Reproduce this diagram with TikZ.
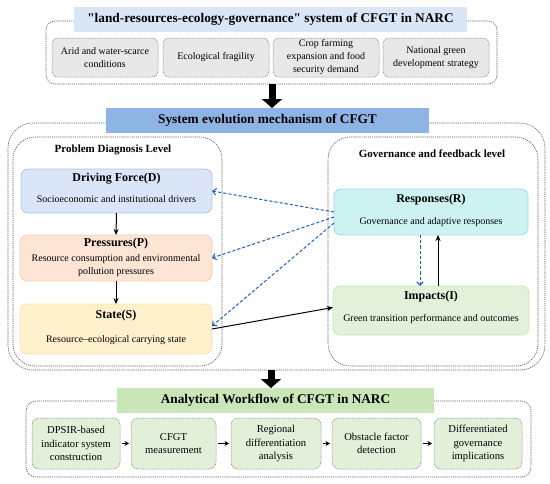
\documentclass[tikz,border=0pt]{standalone}
\usepackage{fontspec}
\setmainfont{Liberation Serif}[Ligatures=TeXOff]
\usetikzlibrary{arrows.meta}
\definecolor{tblue}{HTML}{D9E6F6}
\definecolor{mblue}{HTML}{8EB4E3}
\definecolor{bgreen}{HTML}{C9E6B8}
\definecolor{gfill}{HTML}{E8E8E8}
\definecolor{dashc}{HTML}{5E5E5E}
\definecolor{dfill}{HTML}{DAE6F7}\definecolor{dline}{HTML}{A9C4EB}
\definecolor{pfill}{HTML}{FCE5D4}\definecolor{pline}{HTML}{F7CFB0}
\definecolor{sfill}{HTML}{FFF1CC}\definecolor{sline}{HTML}{F9E3A6}
\definecolor{rfill}{HTML}{CCF2F2}\definecolor{rline}{HTML}{A5D3EE}
\definecolor{ifill}{HTML}{E2F1DA}\definecolor{iline}{HTML}{C9E4BA}
\definecolor{wfill}{HTML}{E2EFD9}
\definecolor{fbblue}{HTML}{1F5FBF}
\begin{document}
\begin{tikzpicture}[x=1pt,y=-1pt,
  outerdash/.style={draw=dashc,line width=0.6pt,dash pattern=on 1.2pt off 0.9pt,inner sep=0,outer sep=0},
  titlebox/.style={inner sep=0,outer sep=0,font=\fontsize{13.3}{15}\selectfont\bfseries},
  graybox/.style={fill=gfill,draw=dashc!80,line width=0.5pt,dash pattern=on 1pt off 0.8pt,rounded corners=6,inner sep=0,outer sep=0,minimum height=39,minimum width=106,align=center,font=\fontsize{10}{13}\selectfont},
  wbox/.style={fill=wfill,draw=dashc!80,line width=0.5pt,dash pattern=on 1pt off 0.8pt,rounded corners=7,inner sep=0,outer sep=0,minimum height=51,align=center,font=\fontsize{10.6}{13.5}\selectfont},
  dpsir/.style={rounded corners=7,line width=0.7pt,inner sep=0,outer sep=0},
  ttl/.style={font=\fontsize{12}{14}\selectfont\bfseries,inner sep=0},
  sub/.style={font=\fontsize{10}{13}\selectfont,inner sep=0,align=center},
  lvl/.style={font=\fontsize{11}{13}\selectfont\bfseries,inner sep=0},
  blk/.style={-{Stealth[length=6pt,width=5pt]},line width=1pt},
  fb/.style={draw=fbblue,dash pattern=on 3.2pt off 2pt,line width=1pt,-{Straight Barb[length=3.5pt,width=6.5pt]}},
  big/.style={line width=7pt,-{Triangle[length=9pt,width=20pt]}},
  wf/.style={-{Stealth[length=4.5pt,width=5pt]},line width=1pt,shorten <=2pt,shorten >=2pt}]
\useasboundingbox[fill=white] (0,0) rectangle (550,483);

% ---------- top section ----------
\node[outerdash,rounded corners=9,minimum width=451,minimum height=63] (topouter) at (271.5,52.5) {};
\node[titlebox,fill=tblue,minimum width=393,minimum height=25] (toptitle) at (270.5,19.5) {"land-resources-ecology-governance" system of CFGT in NARC};
\node[graybox] (g1) at (105,57.5) {Arid and water-scarce\\conditions};
\node[graybox] (g2) at (216,57.5) {Ecological fragility};
\node[graybox] (g3) at (326,57.5) {Crop farming\\expansion and food\\security demand};
\node[graybox] (g4) at (436,57.5) {National green\\development strategy};

% ---------- middle section ----------
\node[outerdash,rounded corners=25,minimum width=537,minimum height=247] (midouter) at (276.5,246.5) {};
\node[titlebox,fill=mblue,minimum width=323,minimum height=25] (midtitle) at (267.5,120.5) {System evolution mechanism of CFGT};
\node[outerdash,rounded corners=22,minimum width=209,minimum height=229] (leftin) at (117.5,251.5) {};
\node[outerdash,rounded corners=22,minimum width=210,minimum height=229] (rightin) at (433,251.5) {};
\node[lvl] (lvlL) at (113,150) {Problem Diagnosis Level};
\node[lvl] (lvlR) at (432,154) {Governance and feedback level};

\node[dpsir,fill=dfill,draw=dline,minimum width=191,minimum height=44] (D) at (116.5,191) {};
\node[ttl] (Dt) at (116.5,179) {Driving Force(D)};
\node[sub] (Ds) at (116.5,199) {Socioeconomic and institutional drivers};

\node[dpsir,fill=pfill,draw=pline,minimum width=192,minimum height=46] (P) at (116,258) {};
\node[ttl] (Pt) at (116,244) {Pressures(P)};
\node[sub] (Ps) at (116,266) {Resource consumption and environmental\\pollution pressures};

\node[dpsir,fill=sfill,draw=sline,minimum width=192,minimum height=50] (S) at (116,329) {};
\node[ttl] (St) at (116,316) {State(S)};
\node[sub] (Ss) at (116,340) {Resource–ecological carrying state};

\node[dpsir,fill=rfill,draw=rline,minimum width=194,minimum height=46] (R) at (431,212) {};
\node[ttl] (Rt) at (431,200) {Responses(R)};
\node[sub] (Rs) at (431,222) {Governance and adaptive responses};

\node[dpsir,fill=ifill,draw=iline,minimum width=196,minimum height=49] (I) at (431,310.5) {};
\node[ttl] (It) at (431,297) {Impacts(I)};
\node[sub] (Is) at (431,319) {Green transition performance and outcomes};

\draw[blk] (D.south) -- (P.north);
\draw[blk] (P.south) -- (S.north);
\draw[fb] (R.west) -- (D.east);
\draw[fb] ([yshift=-5pt]R.west) -- (P.east);
\draw[fb] ([yshift=-11pt]R.west) -- ([yshift=3pt]S.east);
\draw[fb] ([xshift=-11pt]R.south) -- ([xshift=-11pt]R.south |- I.north);
\draw[blk] ([xshift=7pt]R.south |- I.north) -- ([xshift=7pt]R.south);
\draw[blk] (S.east) -- ([yshift=3pt]I.west);

% ---------- bottom section ----------
\node[outerdash,rounded corners=10,minimum width=505,minimum height=76] (botouter) at (278.5,439) {};
\node[titlebox,fill=bgreen,minimum width=317,minimum height=25] (bottitle) at (275.5,400.5) {Analytical Workflow of CFGT in NARC};
\node[wbox,minimum width=88] (w1) at (76,443.5) {DPSIR-based\\indicator system\\construction};
\node[wbox,minimum width=85] (w2) at (173.5,443.5) {CFGT\\measurement};
\node[wbox,minimum width=90] (w3) at (276,443.5) {Regional\\differentiation\\analysis};
\node[wbox,minimum width=89] (w4) at (376.5,443.5) {Obstacle factor\\detection};
\node[wbox,minimum width=88] (w5) at (478,443.5) {Differentiated\\governance\\implications};
\draw[wf] (w1) -- (w2);
\draw[wf] (w2) -- (w3);
\draw[wf] (w3) -- (w4);
\draw[wf] (w4) -- (w5);

% ---------- big arrows ----------
\draw[big] ([xshift=0.5pt]topouter.south) -- ([xshift=0.5pt]topouter.south |- midtitle.north);
\draw[big] ([xshift=-5.5pt]midouter.south) -- ([xshift=-5.5pt]midouter.south |- bottitle.north);
\end{tikzpicture}
\end{document}
